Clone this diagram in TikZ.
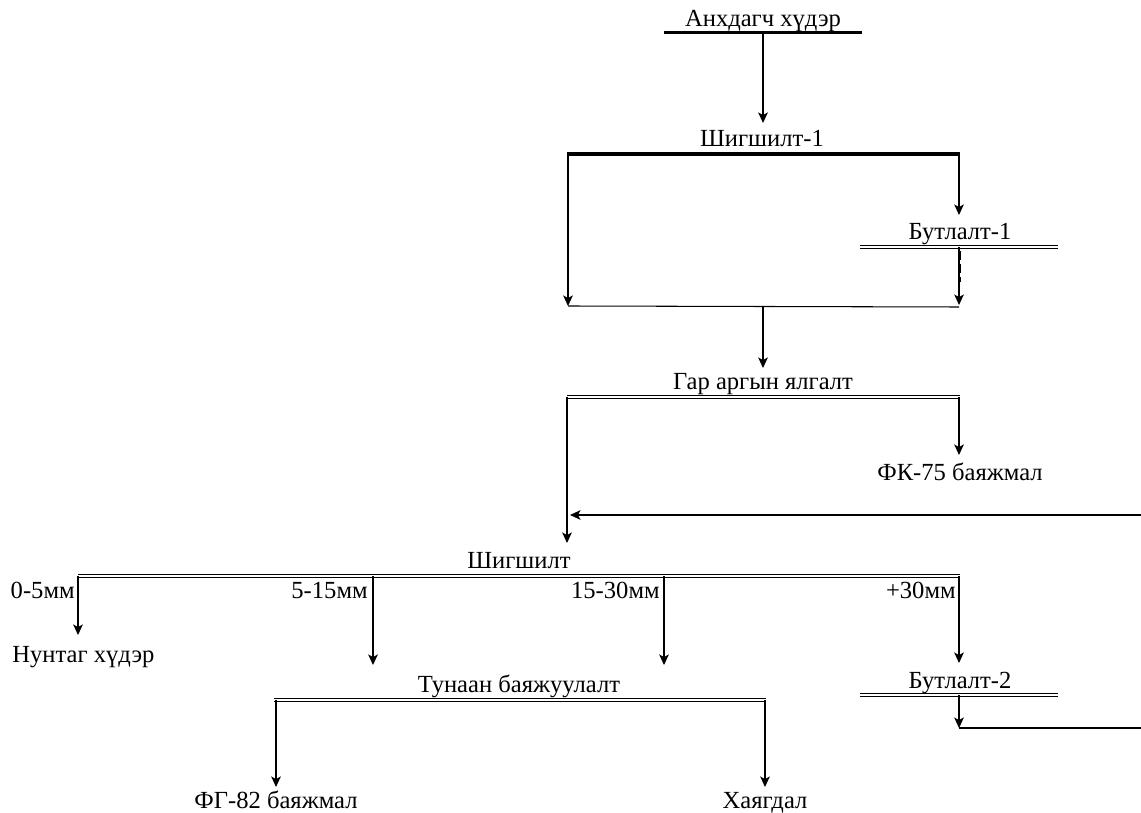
\documentclass[tikz,border=0pt]{standalone}
\usepackage{fontspec}
\setmainfont{Liberation Serif}
\usepackage{tikz}
\usetikzlibrary{positioning,arrows.meta}

\begin{document}
\begin{tikzpicture}[x=0.02cm, y=-0.02cm,
  lbl/.style={font=\fontsize{14}{16}\selectfont, inner sep=0pt, anchor=base},
  bar/.style={line width=0.8pt, double, double distance=0.8pt},
  ar/.style={line width=0.6pt, -{Stealth[length=6pt, width=5.5pt, inset=1.5pt]}},
  ln/.style={line width=0.6pt},
]
\useasboundingbox (0,0) rectangle (1141,813);

% process labels
\node[lbl] (feed) at (763,27)  {Анхдагч хүдэр};
\node[lbl] (sc1)  at (762,147) {Шигшилт-1};
\node[lbl] (cr1)  at (960,240) {Бутлалт-1};
\node[lbl] (hand) at (763,390) {Гар аргын ялгалт};
\node[lbl] (fk)   at (960,480) {ФК-75 баяжмал};
\node[lbl] (sc)   at (519,568) {Шигшилт};
\node[lbl] (cr2)  at (960,688) {Бутлалт-2};
\node[lbl] (jig)  at (519,692) {Тунаан баяжуулалт};
\node[lbl] (fine) at (12,662) [anchor=base west] {Нунтаг хүдэр};
\node[lbl] (fg)   at (276,808) {ФГ-82 баяжмал};
\node[lbl] (tail) at (765,808) {Хаягдал};

% size classes
\node[lbl, anchor=base east] (f1) at (75,598)  {0-5мм};
\node[lbl, anchor=base east] (f2) at (368,598) {5-15мм};
\node[lbl, anchor=base east] (f3) at (660,598) {15-30мм};
\node[lbl, anchor=base east] (f4) at (956,598) {+30мм};

% bars
\coordinate (feedw) at (664,33);  \coordinate (feede) at (862,33);
\coordinate (sc1w)  at (567,154); \coordinate (sc1e)  at (960,154);
\coordinate (cr1w)  at (860,247); \coordinate (cr1e)  at (1058,247);
\coordinate (handw) at (567,397); \coordinate (hande) at (960,397);
\coordinate (scw)   at (78,576);  \coordinate (sce)   at (960,576);
\coordinate (cr2w)  at (860,695); \coordinate (cr2e)  at (1058,695);
\coordinate (jigw)  at (274,700); \coordinate (jige)  at (766,700);

\draw[line width=1.7pt] (feedw) -- (feede);
\draw[line width=2.3pt] (sc1w) -- (sc1e);
\draw[bar] (cr1w) -- (cr1e);
\draw[bar] (handw) -- (hande);
\draw[bar] (scw) -- (sce);
\draw[bar] (cr2w) -- (cr2e);
\draw[bar] (jigw) -- (jige);

% joints
\coordinate (mixw) at (568,306);
\coordinate (mixe) at (959,307);
\coordinate (mixc) at (763,306);
\coordinate (ret1) at (1141,728);
\coordinate (ret2) at (1141,515);
\coordinate (retin) at (570,515);
\coordinate (dsh1) at (960,251);
\coordinate (dsh2) at (960,282);

% flows
\draw[ar] (763,33) -- (763,123);
\draw[ar] (568,154) -- (mixw);
\draw[ar] (959,154) -- (959,215);
\draw[ar] (959,247) -- (959,305);
\draw[line width=1.6pt, dash pattern=on 5pt off 2.5pt] (dsh1) -- (dsh2);
\draw[ln] (mixw) -- (mixe);
\draw[ar] (mixc) -- (763,368);
\draw[ar] (959,397) -- (959,455);
\draw[ar] (567,397) -- (567,543);
\draw[ar] (ret2) -- (retin);
\draw[ar] (78,576) -- (78,635);
\draw[ar] (373,576) -- (373,665);
\draw[ar] (664,576) -- (664,665);
\draw[ar] (959,576) -- (959,663);
\draw[ar] (959,695) -- (959,728);
\draw[ln] (959,728) -- (ret1);
\draw[ar] (276,700) -- (276,787);
\draw[ar] (765,700) -- (765,787);
\end{tikzpicture}
\end{document}
